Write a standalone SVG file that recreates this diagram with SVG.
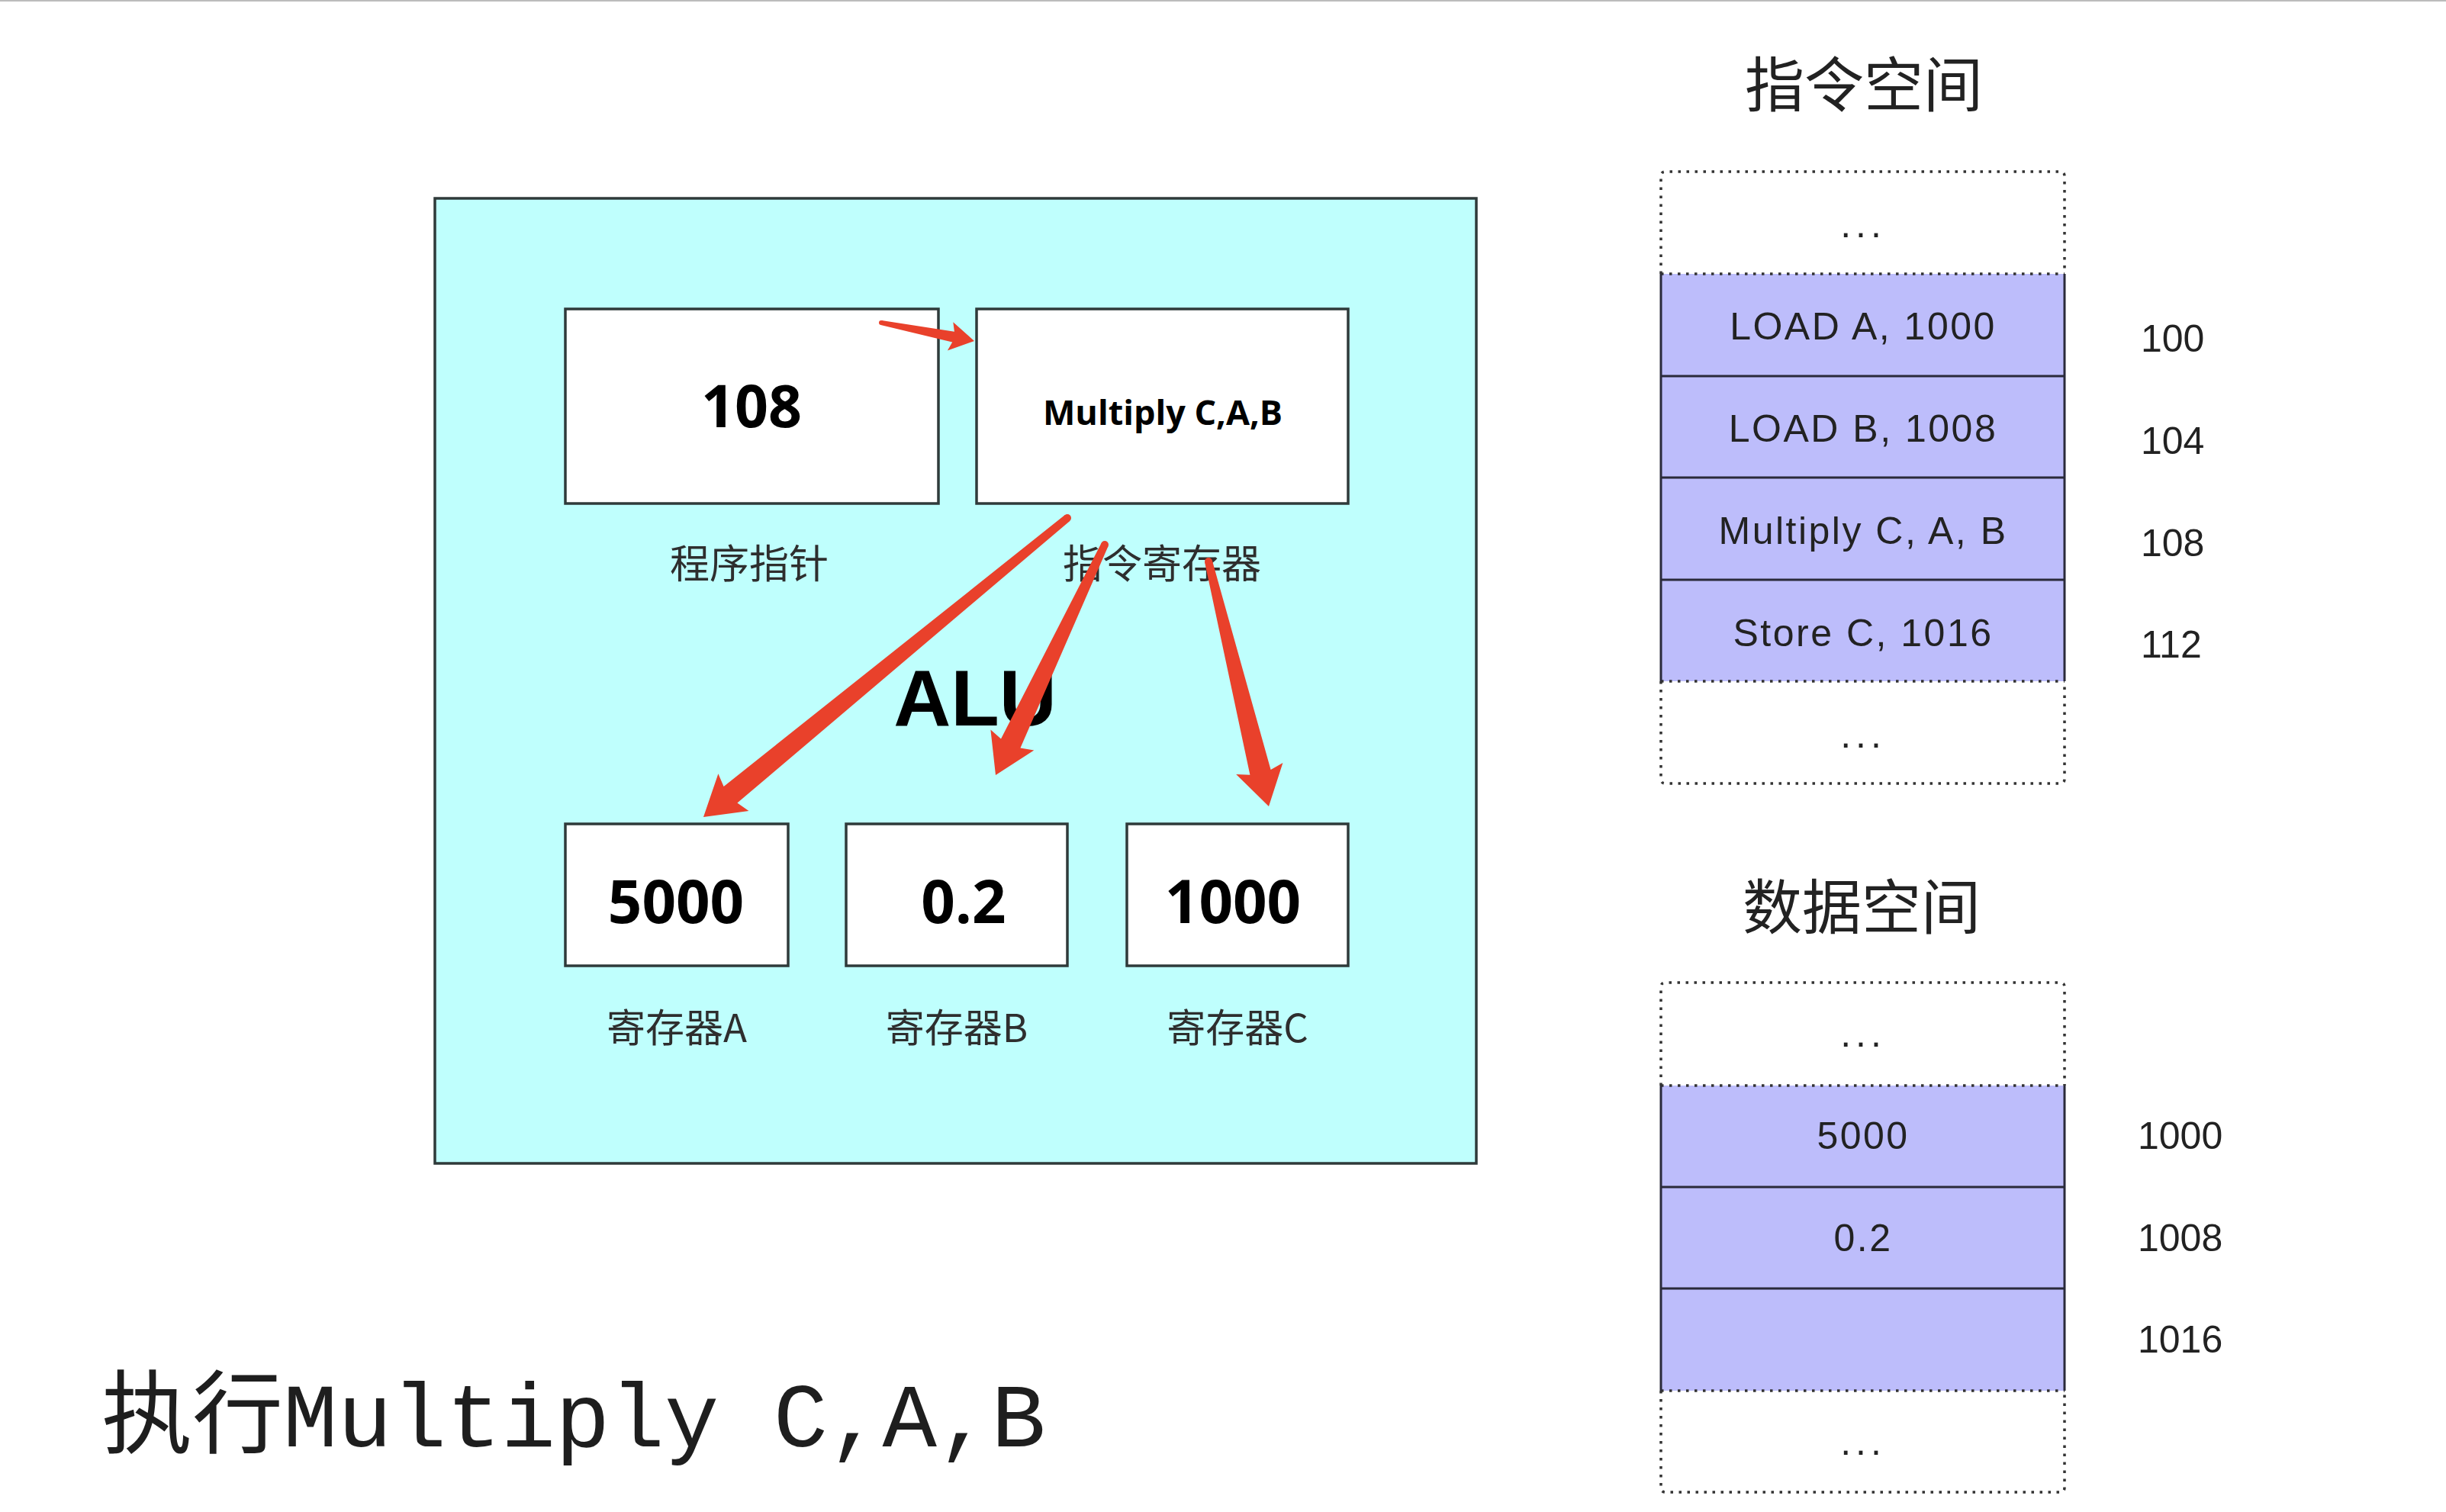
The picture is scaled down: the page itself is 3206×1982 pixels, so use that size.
<svg xmlns="http://www.w3.org/2000/svg" width="3206" height="1982" viewBox="0 0 3206 1982">
<style>
.box{fill:#ffffff;stroke:#2f3a3a;stroke-width:3.5}
.big{font-family:"Open Sans","Liberation Sans",sans-serif;font-weight:700;fill:#000;text-anchor:middle}
.lbl{font-family:"Noto Sans CJK SC",sans-serif;fill:#2e2e2e;text-anchor:middle}
.title{font-family:"Noto Sans CJK SC",sans-serif;fill:#222;font-size:78px;text-anchor:middle}
.row{fill:#bdbdfb;stroke:none}
.rt{font-family:"Liberation Sans",sans-serif;font-size:50px;fill:#222;text-anchor:middle;letter-spacing:2.5px}
.addr{font-family:"Liberation Sans",sans-serif;font-size:50px;fill:#222}
.dots{font-family:"Liberation Sans",sans-serif;font-size:50px;fill:#222;text-anchor:middle;letter-spacing:6px}
.dot{fill:none;stroke:#333;stroke-width:3.5;stroke-dasharray:3.5 7.5}
.sol{stroke:#2a2a3a;stroke-width:3;fill:none}
.arr{fill:#e9412b}
</style>
<rect x="0" y="0" width="3206" height="2" fill="#bcbcbc"/>

<g id="cpu">
  <rect x="570" y="260" width="1365" height="1265" fill="#bffffd" stroke="#2f3a3a" stroke-width="3.5"/>
  <text x="1278" y="951" class="big" style="font-family:'Liberation Sans',sans-serif" font-size="104">ALU</text>
</g>

<g id="pc">
  <rect class="box" x="741" y="405" width="489" height="255"/>
  <text x="985" y="560" class="big" font-size="77">108</text>
  <text x="982" y="758" class="lbl" font-size="52">程序指针</text>
</g>

<g id="ir">
  <rect class="box" x="1280" y="405" width="487" height="255"/>
  <text x="1524" y="557" class="big" font-size="45">Multiply C,A,B</text>
  <text x="1523" y="758" class="lbl" font-size="52">指令寄存器</text>
</g>

<g id="regA">
  <rect class="box" x="741" y="1080" width="292" height="186"/>
  <text x="886" y="1210" class="big" font-size="78">5000</text>
  <text x="887" y="1366" class="lbl" font-size="51">寄存器A</text>
</g>
<g id="regB">
  <rect class="box" x="1109" y="1080" width="290" height="186"/>
  <text x="1263" y="1210" class="big" font-size="78">0.2</text>
  <text x="1254" y="1366" class="lbl" font-size="51">寄存器B</text>
</g>
<g id="regC">
  <rect class="box" x="1477" y="1080" width="290" height="186"/>
  <text x="1616" y="1210" class="big" font-size="78">1000</text>
  <text x="1622" y="1366" class="lbl" font-size="51">寄存器C</text>
</g>

<g id="connectors">
  <path class="arr" d="M1154.4,425.9 L1248.2,448.5 L1241.9,459.5 L1277,447 L1249.3,422.2 L1250.9,434.7 L1155.6,420.1 Z"/>
  <circle class="arr" cx="1155" cy="423" r="3"/>
  <path class="arr" d="M1395.8,675.1 L948.6,1031.0 L941.4,1014.3 L922,1071 L981.4,1062.9 L966.4,1052.6 L1402.2,682.9 Z"/>
  <circle class="arr" cx="1399" cy="679" r="5"/>
  <path class="arr" d="M1443.5,711.9 L1312.0,968.4 L1298.4,956.4 L1305,1016 L1355.3,983.4 L1337.4,980.4 L1452.5,716.1 Z"/>
  <circle class="arr" cx="1448" cy="714" r="5"/>
  <path class="arr" d="M1579.1,737.2 L1638.4,1015.7 L1620.2,1015.0 L1663,1057 L1681.4,1000.0 L1665.6,1009.0 L1588.9,734.8 Z"/>
  <circle class="arr" cx="1584" cy="736" r="5"/>
</g>

<g id="instr-space">
  <text x="2443" y="140" class="title">指令空间</text>
  <path class="dot" d="M2177,359 V231 Q2177,225 2183,225 H2700 Q2706,225 2706,231 V359"/>
  <path class="dot" d="M2177,893 V1021 Q2177,1027 2183,1027 H2700 Q2706,1027 2706,1021 V893"/>
  <rect class="row" x="2177" y="359" width="529" height="534"/>
  <line class="dot" x1="2177" y1="359" x2="2706" y2="359"/>
  <line class="dot" x1="2177" y1="893" x2="2706" y2="893"/>
  <path class="sol" d="M2177,359 V893 M2706,359 V893 M2177,493 H2706 M2177,626 H2706 M2177,760 H2706"/>
  <text x="2442" y="311" class="dots">...</text>
  <text x="2442" y="445" class="rt">LOAD A, 1000</text>
  <text x="2442" y="579" class="rt">LOAD B, 1008</text>
  <text x="2442" y="713" class="rt">Multiply C, A, B</text>
  <text x="2442" y="847" class="rt">Store C, 1016</text>
  <text x="2442" y="980" class="dots">...</text>
  <text x="2806" y="461" class="addr">100</text>
  <text x="2806" y="595" class="addr">104</text>
  <text x="2806" y="729" class="addr">108</text>
  <text x="2806" y="862" class="addr">112</text>
</g>

<g id="data-space">
  <text x="2440" y="1218" class="title">数据空间</text>
  <path class="dot" d="M2177,1423 V1294 Q2177,1288 2183,1288 H2700 Q2706,1288 2706,1294 V1423"/>
  <path class="dot" d="M2177,1823 V1950 Q2177,1956 2183,1956 H2700 Q2706,1956 2706,1950 V1823"/>
  <rect class="row" x="2177" y="1423" width="529" height="400"/>
  <line class="dot" x1="2177" y1="1423" x2="2706" y2="1423"/>
  <line class="dot" x1="2177" y1="1823" x2="2706" y2="1823"/>
  <path class="sol" d="M2177,1423 V1823 M2706,1423 V1823 M2177,1556 H2706 M2177,1689 H2706"/>
  <text x="2442" y="1372" class="dots">...</text>
  <text x="2442" y="1506" class="rt">5000</text>
  <text x="2442" y="1640" class="rt">0.2</text>
  <text x="2442" y="1907" class="dots">...</text>
  <text x="2802" y="1506" class="addr">1000</text>
  <text x="2802" y="1640" class="addr">1008</text>
  <text x="2802" y="1773" class="addr">1016</text>
</g>

<g id="caption">
  <text x="133" y="1896" font-family="'Liberation Mono','Noto Sans CJK SC',monospace" font-size="119" fill="#1e1e1e">执行Multiply C,A,B</text>
</g>
</svg>
